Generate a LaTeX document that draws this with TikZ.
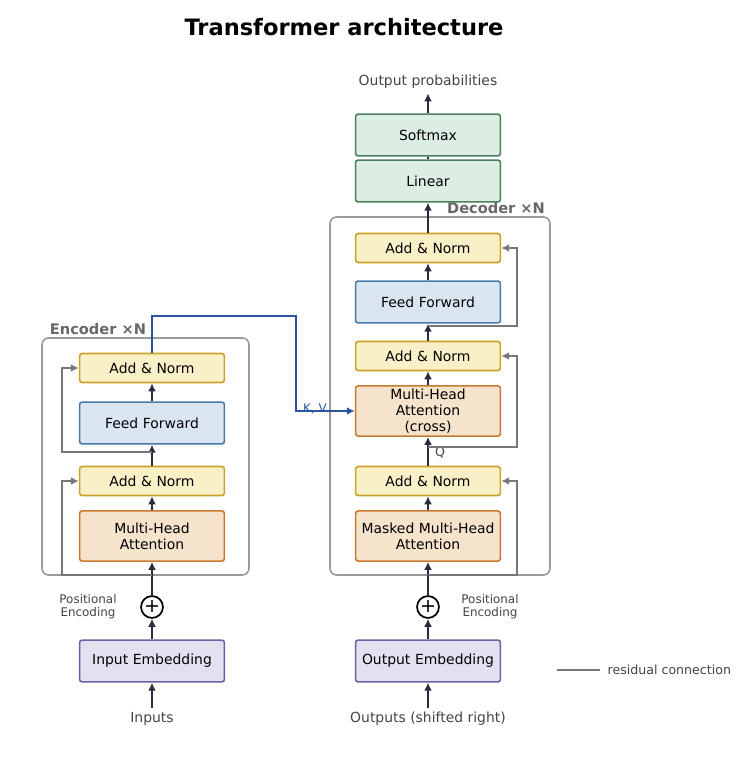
\documentclass[tikz,border=0pt]{standalone}
\usepackage{fontspec}
\setmainfont{DejaVu Sans}
\usetikzlibrary{arrows.meta}
\definecolor{yf}{HTML}{FAF0C8}\definecolor{yb}{HTML}{C9A227}
\definecolor{bf}{HTML}{D9E6F2}\definecolor{bb}{HTML}{4A78A8}
\definecolor{of}{HTML}{F6E3CC}\definecolor{ob}{HTML}{C87A2E}
\definecolor{gf}{HTML}{DCEDE3}\definecolor{gb}{HTML}{4A8058}
\definecolor{pf}{HTML}{E3E0F0}\definecolor{pb}{HTML}{6E5FA8}
\definecolor{ar}{HTML}{2B2B3B}\definecolor{rc}{HTML}{777777}
\definecolor{kv}{HTML}{2A55A0}\definecolor{tx}{HTML}{444444}
\begin{document}
\begin{tikzpicture}[x=0.0265cm,y=-0.0265cm,
 box/.style={draw,rounded corners=2pt,line width=1.2pt,minimum width=145\pgflinewidth,text width=140*0.0265cm,align=center,font=\fontsize{10.5}{12}\selectfont,inner sep=1pt},
 bx/.style={box,minimum width=3.84cm},
 yel/.style={bx,fill=yf,draw=yb,minimum height=0.77cm},
 blu/.style={bx,fill=bf,draw=bb,minimum height=1.11cm},
 ora/.style={bx,fill=of,draw=ob,minimum height=1.33cm},
 grn/.style={bx,fill=gf,draw=gb,minimum height=1.11cm},
 pur/.style={bx,fill=pf,draw=pb,minimum height=1.11cm},
 a/.style={-{Latex[length=6pt,width=6pt]},ar,line width=1.5pt},
 res/.style={-{Latex[length=6pt,width=6pt]},rc,line width=1.2pt},
 lbl/.style={text=tx,font=\fontsize{10.5}{12}\selectfont},
 sm/.style={text=tx,font=\fontsize{9}{10}\selectfont,align=center},
 grp/.style={draw=gray!80,rounded corners=5pt,line width=1.2pt},
 hd/.style={text=gray!30!black!70,font=\bfseries\fontsize{11}{13}\selectfont},
 pl/.style={circle,draw=black,line width=1.3pt,fill=white,minimum size=0.58cm,inner sep=0pt,font=\Large}]
\useasboundingbox (0,0) rectangle (748,759);
\node[font=\bfseries\fontsize{17}{20}\selectfont] (title) at (344,27) {Transformer architecture};
% groups
\draw[grp] (42,338) rectangle (249,575);
\node[hd] (enl) at (98,329) {Encoder ×N};
\draw[grp] (330,217) rectangle (550,575);
\node[hd] (del) at (496,208) {Decoder ×N};
% encoder
\node[yel] (ean2) at (152,368) {Add \& Norm};
\node[blu] (eff) at (152,423) {Feed Forward};
\node[yel] (ean1) at (152,481) {Add \& Norm};
\node[ora] (emha) at (152,536) {Multi-Head\\Attention};
\node[pl] (ep) at (152,607) {+};
\node[pur] (eemb) at (152,661) {Input Embedding};
\node[lbl] (ein) at (152,719) {Inputs};
\node[sm] (epe) at (88,607) {Positional\\Encoding};
% decoder
\node[yel] (dan3) at (428,248) {Add \& Norm};
\node[blu] (dff) at (428,302) {Feed Forward};
\node[yel] (dan2) at (428,356) {Add \& Norm};
\node[ora] (dca) at (428,411) {Multi-Head Attention\\(cross)};
\node[yel] (dan1) at (428,481) {Add \& Norm};
\node[ora] (dmha) at (428,536) {Masked Multi-Head\\Attention};
\node[pl] (dp) at (428,607) {+};
\node[pur] (demb) at (428,661) {Output Embedding};
\node[lbl] (dout) at (428,719) {Outputs (shifted right)};
\node[sm] (dpe) at (490,607) {Positional\\Encoding};
\node[grn] (lin) at (428,181) {Linear};
\node[grn] (smx) at (428,135) {Softmax};
\node[lbl] (prob) at (428,82) {Output probabilities};
% arrows encoder
\draw[a] (ein) -- (eemb);
\draw[a] (eemb) -- (ep);
\draw[a] (ep) -- (emha);
\draw[a] (emha) -- (ean1);
\draw[a] (ean1) -- (eff);
\draw[a] (eff) -- (ean2);
% arrows decoder
\draw[a] (dout) -- (demb);
\draw[a] (demb) -- (dp);
\draw[a] (dp) -- (dmha);
\draw[a] (dmha) -- (dan1);
\draw[a] (dan1) -- (dca);
\draw[a] (dca) -- (dan2);
\draw[a] (dan2) -- (dff);
\draw[a] (dff) -- (dan3);
\draw[a] (dan3) -- (lin);
\draw[ar,line width=1.2pt] (lin) -- (smx);
\draw[a] (smx) -- (prob);
\node[sm,font=\fontsize{9.5}{10}\selectfont] (q) at (440,453) {Q};
% residuals
\coordinate (r1) at (152,575); \coordinate (r2) at (152,452);
\draw[res] (r1) -- (62,575) |- (ean1.west);
\draw[res] (r2) -- (62,452) |- (ean2.west);
\coordinate (s1) at (428,575); \coordinate (s2) at (428,447); \coordinate (s3) at (428,326);
\draw[res] (s1) -- (517,575) |- (dan1.east);
\draw[res] (s2) -- (517,447) |- (dan2.east);
\draw[res] (s3) -- (517,326) |- (dan3.east);
% K,V
\draw[-{Latex[length=6pt,width=6pt]},kv,line width=1.5pt] (ean2.north) -- (152,316) -- (296,316) |- (dca.west);
\node[text=kv,font=\fontsize{9}{10}\selectfont] (kvl) at (315,409) {K, V};
% legend
\coordinate (l1) at (557,670); \coordinate (l2) at (600,670);
\draw[rc,line width=1.5pt] (l1) -- (l2);
\node[sm,anchor=west,font=\fontsize{9.5}{11}\selectfont] (lt) at (603,670) {residual connection};
\end{tikzpicture}
\end{document}
